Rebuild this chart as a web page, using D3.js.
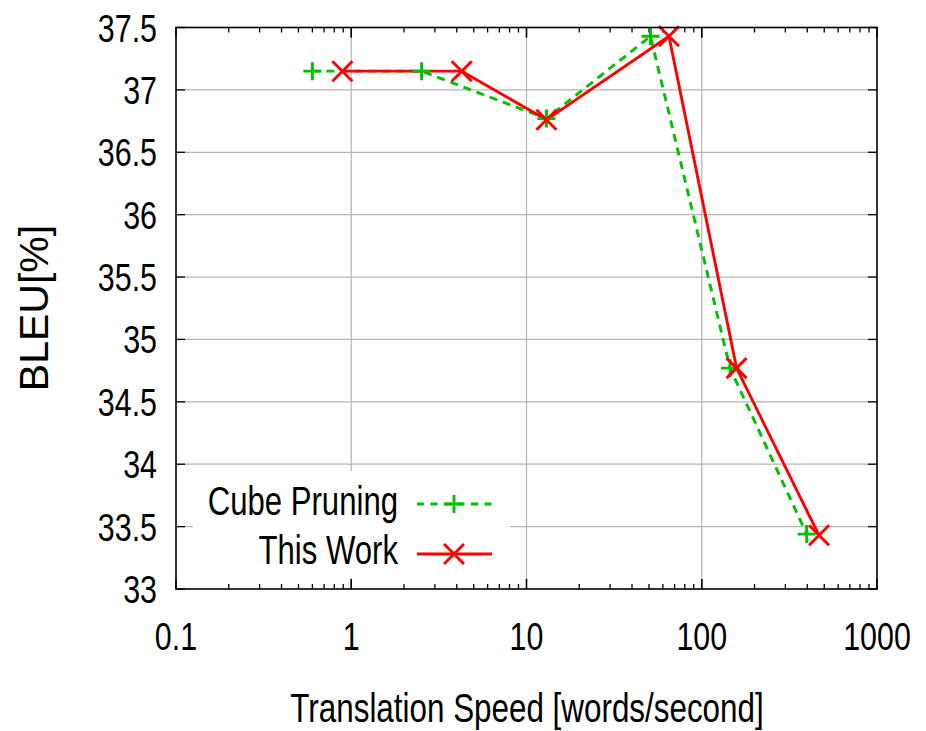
<!DOCTYPE html>
<html><head><meta charset="utf-8">
<script src="https://cdn.jsdelivr.net/npm/d3@7"></script>
<style>body{margin:0;background:#fff}svg{display:block}</style>
</head><body>
<script>
const xTickValues = [0.1, 1, 10, 100, 1000];
const xTickLabels = ["0.1", "1", "10", "100", "1000"];
const yTickValues = [33, 33.5, 34, 34.5, 35, 35.5, 36, 36.5, 37, 37.5];
const yTickLabels = ["33", "33.5", "34", "34.5", "35", "35.5", "36", "36.5", "37", "37.5"];
const seriesNames = ["Cube Pruning", "This Work"];
const cubeX = [0.6, 2.52, 13.0, 51.0, 145, 397];
const cubeY = [37.15, 37.15, 36.77, 37.43, 34.77, 33.44];
const workX = [0.89, 4.27, 13.0, 65.0, 158, 467];
const workY = [37.15, 37.15, 36.76, 37.43, 34.77, 33.43];

const W = 926, H = 731;
const L = 176, R = 877, T = 27.5, B = 589;
const FONT = "'Liberation Sans', Arial, Helvetica, sans-serif";
const SX = 0.78;

const svg = d3.select("body").append("svg").attr("width", W).attr("height", H);
const x = d3.scaleLog().domain([0.1, 1000]).range([L, R]);
const y = d3.scaleLinear().domain([33, 37.5]).range([B, T]);

const grid = svg.append("g").attr("stroke", "#b4b4b4").attr("stroke-width", 1.2);
xTickValues.slice(1, -1).forEach(v => grid.append("line").attr("x1", x(v)).attr("x2", x(v)).attr("y1", T).attr("y2", B));
yTickValues.slice(1, -1).forEach(v => grid.append("line").attr("x1", L).attr("x2", R).attr("y1", y(v)).attr("y2", y(v)));

// legend background
svg.append("rect").attr("x", 193).attr("y", 471).attr("width", 317).attr("height", 107).attr("fill", "#fff");

// ticks
const tk = svg.append("g").attr("stroke", "#000").attr("stroke-width", 1.3);
yTickValues.forEach(v => {
  tk.append("line").attr("x1", L).attr("x2", L + 9).attr("y1", y(v)).attr("y2", y(v));
  tk.append("line").attr("x1", R).attr("x2", R - 9).attr("y1", y(v)).attr("y2", y(v));
});
for (let d = 0.1; d < 1000; d *= 10) {
  for (let k = 1; k <= 10; k++) {
    const v = d * k;
    const len = (k === 1 || k === 10) ? 10 : 5;
    const px = x(v);
    tk.append("line").attr("x1", px).attr("x2", px).attr("y1", B).attr("y2", B - len);
    tk.append("line").attr("x1", px).attr("x2", px).attr("y1", T).attr("y2", T + len);
  }
}

// tick labels
yTickValues.forEach((v, i) => {
  svg.append("text").attr("transform", `translate(157,${y(v) + 14}) scale(${SX},1)`)
    .attr("text-anchor", "end").attr("font-family", FONT).attr("font-size", 39).text(yTickLabels[i]);
});
xTickValues.forEach((v, i) => {
  svg.append("text").attr("transform", `translate(${x(v)},650) scale(${SX},1)`)
    .attr("text-anchor", "middle").attr("font-family", FONT).attr("font-size", 39).text(xTickLabels[i]);
});

// axis titles
svg.append("text").attr("transform", `translate(527,722) scale(0.785,1)`)
  .attr("text-anchor", "middle").attr("font-family", FONT).attr("font-size", 40).text("Translation Speed [words/second]");
svg.append("text").attr("transform", `translate(48,308) rotate(-90)`)
  .attr("text-anchor", "middle").attr("font-family", FONT).attr("font-size", 41).text("BLEU[%]");

// series
const line = d3.line().x(d => x(d[0])).y(d => y(d[1]));
const cube = cubeX.map((v, i) => [v, cubeY[i]]);
const work = workX.map((v, i) => [v, workY[i]]);
const GREEN = "#00c000", RED = "#ff0000";
const LW = 2.9;

svg.append("path").datum(cube).attr("d", line).attr("fill", "none").attr("stroke", GREEN)
  .attr("stroke-width", LW).attr("stroke-dasharray", "8,6");
svg.append("path").datum(work).attr("d", line).attr("fill", "none").attr("stroke", RED).attr("stroke-width", LW);

function plus(g, cx, cy) {
  g.append("path").attr("d", `M${cx - 9},${cy}H${cx + 9}M${cx},${cy - 9}V${cy + 9}`)
    .attr("stroke", GREEN).attr("stroke-width", LW).attr("fill", "none");
}
function cross(g, cx, cy) {
  g.append("path").attr("d", `M${cx - 10},${cy - 10}L${cx + 10},${cy + 10}M${cx - 10},${cy + 10}L${cx + 10},${cy - 10}`)
    .attr("stroke", RED).attr("stroke-width", LW).attr("fill", "none");
}
const mk = svg.append("g");
cube.forEach(d => plus(mk, x(d[0]), y(d[1])));
work.forEach(d => cross(mk, x(d[0]), y(d[1])));

// legend
svg.append("text").attr("transform", `translate(398,515) scale(0.778,1)`)
  .attr("text-anchor", "end").attr("font-family", FONT).attr("font-size", 40).text(seriesNames[0]);
svg.append("text").attr("transform", `translate(398,564) scale(0.778,1)`)
  .attr("text-anchor", "end").attr("font-family", FONT).attr("font-size", 40).text(seriesNames[1]);
svg.append("line").attr("x1", 417).attr("x2", 492).attr("y1", 504).attr("y2", 504)
  .attr("stroke", GREEN).attr("stroke-width", LW).attr("stroke-dasharray", "7,6.5");
plus(svg, 454, 504);
svg.append("line").attr("x1", 417).attr("x2", 492).attr("y1", 554).attr("y2", 554)
  .attr("stroke", RED).attr("stroke-width", LW);
cross(svg, 454, 554);

// frame
svg.append("rect").attr("x", L).attr("y", T).attr("width", R - L).attr("height", B - T)
  .attr("fill", "none").attr("stroke", "#000").attr("stroke-width", 1.6);
</script>
</body></html>
